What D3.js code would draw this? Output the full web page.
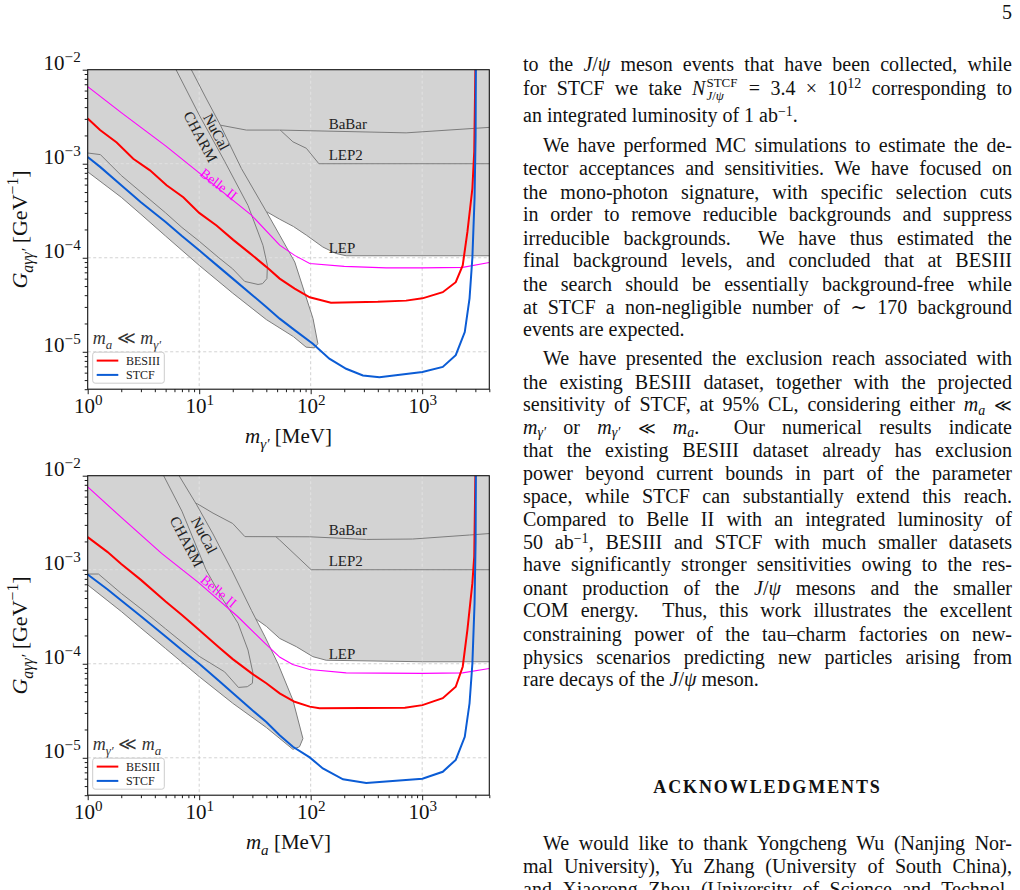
<!DOCTYPE html>
<html>
<head>
<meta charset="utf-8">
<script src="https://cdn.jsdelivr.net/npm/d3@7"></script>
<style>
  body { margin: 0; background: #fff; }
  #page { position: relative; width: 1020px; height: 890px; overflow: hidden;
          font-family: "Liberation Serif", "DejaVu Serif", serif; color: #111; }
  #charts { position: absolute; left: 0; top: 0; }
  .ln { position: absolute; left: 523px; width: 489px; font-size: 20px; line-height: 23px;
        text-align: justify; text-align-last: justify; }
  .ln.ind { left: 543px; width: 469px; }
  .ln.last { text-align-last: left; }
  .ln sup { font-size: 70%; line-height: 0; position: relative; top: -0.45em; vertical-align: baseline; }
  .ln sub { font-size: 70%; line-height: 0; position: relative; top: 0.22em; vertical-align: baseline; }
  .ll { font-family: "DejaVu Serif", serif; font-size: 17px; line-height: 0; }
  .stk { position: relative; display: inline-block; width: 33px; height: 0; font-size: 13px; }
  .stk span { position: absolute; left: 1px; line-height: 13px; white-space: nowrap; }
  .stk .up { top: -19px; }
  .stk .dn { top: -6px; }
  .head { position: absolute; left: 523px; width: 489px; text-align: center; font-weight: bold;
          font-size: 18px; letter-spacing: 1.9px; line-height: 23px; }
  .pno { position: absolute; right: 8px; top: 1px; font-size: 20px; line-height: 23px; }
</style>
</head>
<body>
<div id="page">
  <svg id="charts" width="1020" height="890"></svg>
  <div class="pno">5</div>
  <div id="text"></div>
</div>
<script>
const FONT = '"Liberation Serif", "DejaVu Serif", serif';

// axes
const massDomain = [1, 4000];
const couplingDomain = [4e-6, 1e-2];
const massTicks = [1, 10, 100, 1000];
const massTickExp = ["0", "1", "2", "3"];
const couplingTicks = [1e-2, 1e-3, 1e-4, 1e-5];
const couplingTickExp = ["\u22122", "\u22123", "\u22124", "\u22125"];

// upper panel, m_a << m_gamma'   [mass MeV, coupling GeV^-1]
const belleTop = [[1,6.6e-3],[2,3.5e-3],[5,1.55e-3],[10,8.0e-4],[20,4.1e-4],[29.4,2.84e-4],[52.7,1.36e-4],[71.8,1.06e-4],[98,8.7e-5],[200,8.1e-5],[475,7.8e-5],[1000,7.8e-5],[2310,7.9e-5],[4000,8.9e-5]];
const besiiiTop = [[1,3.03e-3],[1.29,2.28e-3],[1.82,1.68e-3],[2.56,1.13e-3],[3.62,8.5e-4],[5.1,5.9e-4],[7.2,4.4e-4],[10,3.0e-4],[14.3,2.2e-4],[20.2,1.55e-4],[28.4,1.12e-4],[40,8.0e-5],[52.7,6.0e-5],[71.8,4.7e-5],[98,3.8e-5],[152,3.33e-5],[400,3.4e-5],[718,3.5e-5],[1005,3.7e-5],[1530,4.3e-5],[2000,5.5e-5],[2310,8.3e-5],[2545,1.88e-4],[2820,5.45e-4],[2930,1.34e-3],[3000,1e-2]];
const stcfTop = [[1,1.18e-3],[1.3,9.2e-4],[2,5.9e-4],[3,3.9e-4],[5,2.4e-4],[7,1.7e-4],[10,1.2e-4],[15,8.0e-5],[20,6.0e-5],[30,4.0e-5],[40,3.0e-5],[52.7,2.25e-5],[71.8,1.7e-5],[104.6,1.22e-5],[147,8.45e-6],[208,6.6e-6],[294,5.6e-6],[414,5.37e-6],[1005,6.1e-6],[1530,6.9e-6],[2000,9.2e-6],[2410,1.62e-5],[2660,3.7e-5],[2820,1.0e-4],[2950,4.3e-4],[3015,2e-3],[3030,1e-2]];
const lepTop = [[5,2e-2],[8000,2e-2],[8000,1.05e-4],[208,1.05e-4],[169,1.11e-4],[128.6,1.3e-4],[91.4,1.74e-4],[70,2.15e-4],[52.7,2.57e-4],[40,3.1e-4],[10,3.1e-4]];
const lep2Top = [[52,2e-2],[8000,2e-2],[8000,1e-3],[118.5,1e-3],[91.4,1.46e-3],[69.3,1.71e-3],[54.6,2.22e-3],[52,2.35e-3]];
const babarTop = [[5,2e-2],[8000,2e-2],[8000,2.57e-3],[718,2.13e-3],[52.7,2.28e-3],[26.5,2.28e-3],[15.5,2.57e-3],[12,2.6e-3]];
const nucalTop = [[0.5,2e-2],[6.3,2e-2],[8.5,1e-2],[11.5,5e-3],[15.5,2.57e-3],[23.9,8.9e-4],[40,3.1e-4],[52.7,1.74e-4],[72,9e-5],[105,2.25e-5],[116,1.22e-5],[108,1.1e-5],[91,1.12e-5],[70,1.45e-5],[40,2.2e-5],[20,4.2e-5],[10,8.3e-5],[5,1.7e-4],[3,2.9e-4],[2,4.4e-4],[1,8.2e-4],[0.5,1.6e-3]];
const charmTop = [[0.5,2e-2],[4.7,2e-2],[6.2,1e-2],[10,3.3e-3],[17,1.05e-3],[27.4,3.6e-4],[37.3,1.36e-4],[40.9,8.3e-5],[40.5,6e-5],[37,5.3e-5],[33.7,5.2e-5],[25.6,5.6e-5],[20,7.6e-5],[15,1.0e-4],[10,1.5e-4],[7,2.1e-4],[5,3e-4],[3,5e-4],[2,7.5e-4],[1.3,1.25e-3],[1,1.3e-3],[0.5,1.3e-3]];

// lower panel, m_gamma' << m_a
const belleBot = [[1,7.6e-3],[2,3.6e-3],[4.6,1.49e-3],[10,7.2e-4],[22,3.2e-4],[39,1.65e-4],[53,1.17e-4],[69,9.8e-5],[98,8.7e-5],[208,8.0e-5],[1000,7.9e-5],[2300,8.0e-5],[4000,8.9e-5]];
const besiiiBot = [[1,2.22e-3],[1.5,1.55e-3],[2,1.15e-3],[3,7.8e-4],[5,4.6e-4],[7,3.3e-4],[10,2.29e-4],[15,1.5e-4],[20,1.12e-4],[30,7.8e-5],[40,6.2e-5],[52.7,4.84e-5],[71.8,3.94e-5],[98,3.5e-5],[120,3.36e-5],[700,3.4e-5],[1005,3.63e-5],[1530,4.3e-5],[2000,5.7e-5],[2310,9.3e-5],[2545,2.29e-4],[2820,7.2e-4],[2930,1.38e-3],[3000,1e-2]];
const stcfBot = [[1,8.9e-4],[1.5,6.2e-4],[2,4.7e-4],[3,3.2e-4],[5,1.95e-4],[7,1.4e-4],[10,1.0e-4],[15,6.6e-5],[20,4.9e-5],[30,3.2e-5],[40,2.4e-5],[52.7,1.74e-5],[69.3,1.31e-5],[98,1.01e-5],[128.6,7.7e-6],[195,5.9e-6],[315,5.4e-6],[1005,6.0e-6],[1530,7.1e-6],[2000,9.5e-6],[2410,1.67e-5],[2660,3.8e-5],[2820,1.0e-4],[2950,4.4e-4],[3015,2e-3],[3030,1e-2]];
const lepBot = [[5,2e-2],[8000,2e-2],[8000,1.05e-4],[1005,1.05e-4],[137.8,1.09e-4],[104.6,1.19e-4],[74.3,1.52e-4],[52.7,1.86e-4],[40,2.5e-4],[31,3.1e-4],[10,3.1e-4]];
const lep2Bot = [[46,2e-2],[8000,2e-2],[8000,1e-3],[101,1e-3],[52.7,2.07e-3],[48,2.28e-3],[46,2.4e-3]];
const babarBot = [[4,2e-2],[8000,2e-2],[8000,2.58e-3],[2660,2.34e-3],[820,2.12e-3],[315,2.1e-3],[98,2.24e-3],[25.7,2.25e-3],[20,3.1e-3],[13.3,4e-3],[9.7,5e-3],[8,5.5e-3]];
const nucalBot = [[0.5,2e-2],[4.7,2e-2],[6.6,1e-2],[9.5,4.9e-3],[13.3,2.4e-3],[19.5,1e-3],[29.4,3.7e-4],[38.9,1.94e-4],[50.9,1.0e-4],[69.3,4.1e-5],[85.2,1.6e-5],[79.4,1.31e-5],[69.3,1.23e-5],[40,2.1e-5],[20,3.8e-5],[10,7.3e-5],[5,1.45e-4],[3,2.4e-4],[2,3.6e-4],[1,6.9e-4],[0.5,1.35e-3]];
const charmBot = [[0.5,2e-2],[3.55,2e-2],[4.8,1e-2],[7,4.2e-3],[11.5,1e-3],[16,5e-4],[22.3,2.7e-4],[27.4,1.4e-4],[30.4,7.9e-5],[30,6.2e-5],[27,5.7e-5],[22.5,5.6e-5],[16.9,8.2e-5],[10,1.2e-4],[7,1.7e-4],[5,2.35e-4],[3,3.85e-4],[2,5.6e-4],[1.25,9e-4],[0.5,9e-4]];

const legendNames = ["BESIII", "STCF"];
const legendColors = ["#ff0000", "#0b5cd5"];

const plotL = 87.7, plotR = 489.3, plotH = 319.5;

const panels = [
    { id: "top", top: 69.7, belle: belleTop, besiii: besiiiTop, stcf: stcfTop,
      shaded: [lepTop, lep2Top, babarTop, nucalTop, charmTop],
      nucalAt: [14.3, 2.19e-3], charmAt: [10.3, 1.94e-3], belleAt: [15, 6.06e-4], belleRot: 38,
      note: [["m", "i"], ["a", "i sub"], [" \u226A "], ["m", "i"], ["\u03B3\u2032", "i sub"]],
      xTitle: [["m", "i"], ["\u03B3\u2032", "i sub"], [" [MeV]"]] },
    { id: "bot", top: 475.7, belle: belleBot, besii: null, besiii: besiiiBot, stcf: stcfBot,
      shaded: [lepBot, lep2Bot, babarBot, nucalBot, charmBot],
      nucalAt: [11.1, 2.34e-3], charmAt: [7.74, 1.99e-3], belleAt: [15, 5.93e-4], belleRot: 40,
      note: [["m", "i"], ["\u03B3\u2032", "i sub"], [" \u226A "], ["m", "i"], ["a", "i sub"]],
      xTitle: [["m", "i"], ["a", "i sub"], [" [MeV]"]] }
];

const svg = d3.select("#charts");
const defs = svg.append("defs");

// text with italic / sub / sup pieces
function richText(sel, parts, size) {
    let shift = 0;
    parts.forEach(([t, flags = ""]) => {
        const sub = flags.includes("sub"), sup = flags.includes("sup");
        const target = sub ? 0.28 * size : sup ? -0.4 * size : 0;
        const ts = sel.append("tspan").text(t).attr("dy", target - shift);
        shift = target;
        if (sub || sup) ts.attr("font-size", size * 0.72);
        if (flags.includes("i")) ts.attr("font-style", "italic");
    });
}

function minorTicks(lo, hi) {
    const out = [];
    for (let e = Math.floor(Math.log10(lo)); e <= Math.ceil(Math.log10(hi)); e++) {
        for (let k = 2; k <= 9; k++) {
            const v = k * Math.pow(10, e);
            if (v >= lo && v <= hi) out.push(v);
        }
    }
    return out;
}

function drawPanel(p) {
    const top = p.top, bottom = p.top + plotH;
    const x = d3.scaleLog().domain(massDomain).range([plotL, plotR]);
    const y = d3.scaleLog().domain(couplingDomain).range([bottom, top]);
    const shape = d3.line().x(d => x(d[0])).y(d => y(d[1]));
    const closed = d => shape(d) + "Z";

    defs.append("clipPath").attr("id", "plot-" + p.id)
        .append("rect").attr("x", plotL).attr("y", top).attr("width", plotR - plotL).attr("height", plotH);
    defs.append("clipPath").attr("id", "shade-" + p.id)
        .selectAll("path").data(p.shaded).join("path").attr("d", closed);

    // each outline shows only where no later region covers it
    p.shaded.forEach((r, i) => {
        const m = defs.append("mask").attr("id", `mask-${p.id}-${i}`).attr("maskUnits", "userSpaceOnUse")
            .attr("x", 0).attr("y", 0).attr("width", 1020).attr("height", 890);
        m.append("rect").attr("width", 1020).attr("height", 890).attr("fill", "#fff");
        m.selectAll("path").data(p.shaded.slice(i + 1)).join("path").attr("d", closed).attr("fill", "#000");
    });

    const plot = svg.append("g").attr("clip-path", `url(#plot-${p.id})`);

    const drawGrid = (g, color) => {
        g.selectAll(".vg").data(massTicks.slice(1)).join("line")
            .attr("x1", d => x(d)).attr("x2", d => x(d)).attr("y1", top).attr("y2", bottom);
        g.selectAll(".hg").data(couplingTicks.slice(1)).join("line")
            .attr("x1", plotL).attr("x2", plotR).attr("y1", d => y(d)).attr("y2", d => y(d));
        g.selectAll("line").attr("stroke", color).attr("stroke-width", 0.8).attr("stroke-dasharray", "3,2.5");
    };

    drawGrid(plot.append("g"), "#c6c6c6");

    plot.append("g").selectAll("path").data(p.shaded).join("path")
        .attr("d", closed).attr("fill", "#d3d3d3");

    drawGrid(plot.append("g").attr("clip-path", `url(#shade-${p.id})`), "#e6e6e6");

    plot.append("g").selectAll("path").data(p.shaded).join("path")
        .attr("d", closed)
        .attr("mask", (d, i) => `url(#mask-${p.id}-${i})`)
        .attr("fill", "none")
        .attr("stroke", "#7c7c7c")
        .attr("stroke-width", 1);

    // curves
    plot.append("path").datum(p.belle).attr("d", shape)
        .attr("fill", "none").attr("stroke", "#ff00ff").attr("stroke-width", 1.1);
    plot.append("path").datum(p.besiii).attr("d", shape)
        .attr("fill", "none").attr("stroke", legendColors[0]).attr("stroke-width", 2);
    plot.append("path").datum(p.stcf).attr("d", shape)
        .attr("fill", "none").attr("stroke", legendColors[1]).attr("stroke-width", 2);

    // region names
    const names = [["BaBar", 2.33e-3], ["LEP2", 1.09e-3], ["LEP", 1.13e-4]];
    plot.selectAll(".rname").data(names).join("text")
        .attr("x", x(145)).attr("y", d => y(d[1]))
        .attr("font-family", FONT).attr("font-size", 15).attr("fill", "#222")
        .text(d => d[0]);

    const rotLabel = (txt, at, rot, color, size) =>
        plot.append("text")
            .attr("transform", `translate(${x(at[0])},${y(at[1])}) rotate(${rot})`)
            .attr("text-anchor", "middle").attr("dy", "0.35em")
            .attr("font-family", FONT).attr("font-size", size).attr("fill", color)
            .text(txt);
    rotLabel("NuCal", p.nucalAt, 62, "#222", 15);
    rotLabel("CHARM", p.charmAt, 62, "#222", 15);
    rotLabel("Belle II", p.belleAt, p.belleRot, "#ff00ff", 14);

    // case note
    const note = svg.append("text").attr("x", plotL + 5).attr("y", bottom - 45)
        .attr("font-family", FONT).attr("font-size", 18).attr("fill", "#333");
    richText(note, p.note, 18);

    // legend
    const lg = svg.append("g");
    lg.append("rect").attr("x", plotL + 5).attr("y", bottom - 37).attr("width", 71.6).attr("height", 31)
        .attr("rx", 2.5).attr("fill", "#fff").attr("fill-opacity", 0.85).attr("stroke", "#cccccc").attr("stroke-width", 1);
    legendNames.forEach((name, i) => {
        const ly = bottom - 28.6 + i * 14.3;
        lg.append("line").attr("x1", plotL + 9).attr("x2", plotL + 30.6).attr("y1", ly).attr("y2", ly)
            .attr("stroke", legendColors[i]).attr("stroke-width", 2);
        lg.append("text").attr("x", plotL + 38.3).attr("y", ly).attr("dy", "0.36em")
            .attr("font-family", FONT).attr("font-size", 12).attr("fill", "#222").text(name);
    });

    // axes
    const xAxis = svg.append("g").attr("transform", `translate(0,${bottom})`)
        .call(d3.axisBottom(x).tickValues(massTicks).tickSize(5).tickFormat(() => ""));
    svg.append("g").attr("transform", `translate(0,${bottom})`)
        .call(d3.axisBottom(x).tickValues(minorTicks(1, 4000)).tickSize(3).tickFormat(() => ""))
        .call(g => g.select(".domain").remove());
    const yAxis = svg.append("g").attr("transform", `translate(${plotL},0)`)
        .call(d3.axisLeft(y).tickValues(couplingTicks).tickSize(5).tickFormat(() => ""));
    svg.append("g").attr("transform", `translate(${plotL},0)`)
        .call(d3.axisLeft(y).tickValues(minorTicks(4e-6, 1e-2)).tickSize(3).tickFormat(() => ""))
        .call(g => g.select(".domain").remove());
    [xAxis, yAxis].forEach(a => a.select(".domain").remove());
    svg.selectAll(".tick line").attr("stroke", "#000").attr("stroke-width", 0.9);

    xAxis.selectAll(".tick text").each(function (d, i) {
        const t = d3.select(this).attr("y", 24).attr("dy", null)
            .attr("font-family", FONT).attr("font-size", 21).attr("fill", "#111");
        richText(t, [["10"], [massTickExp[i], "sup"]], 21);
    });
    yAxis.selectAll(".tick text").each(function (d, i) {
        const t = d3.select(this).attr("x", -7).attr("dy", "0.3em")
            .attr("font-family", FONT).attr("font-size", 21).attr("fill", "#111");
        richText(t, [["10"], [couplingTickExp[i], "sup"]], 21);
    });

    // frame
    svg.append("rect").attr("x", plotL).attr("y", top).attr("width", plotR - plotL).attr("height", plotH)
        .attr("fill", "none").attr("stroke", "#111").attr("stroke-width", 1.1);

    // axis titles
    const xt = svg.append("text").attr("x", (plotL + plotR) / 2).attr("y", bottom + 54)
        .attr("text-anchor", "middle").attr("font-family", FONT).attr("font-size", 21).attr("fill", "#111");
    richText(xt, p.xTitle, 21);

    const yt = svg.append("text")
        .attr("transform", `translate(27,${top + plotH / 2}) rotate(-90)`)
        .attr("text-anchor", "middle").attr("font-family", FONT).attr("font-size", 22).attr("fill", "#111");
    richText(yt, [["G", "i"], ["a\u03B3\u03B3\u2032", "i sub"], [" [GeV"], ["\u22121", "sup"], ["]"]], 22);
}

panels.forEach(drawPanel);

// right column text: [baseline, class, html]
const J = "<i>J</i>/<i>\u03C8</i>";
const LL = '<span class="ll">\u226A</span>';
const textLines = [
    [71.7, "", `to the ${J} meson events that have been collected, while`],
    [95, "", `for STCF we take <i>N</i><span class="stk"><span class="up">STCF</span><span class="dn">${J}</span></span> = 3.4 \u00D7 10<sup>12</sup> corresponding to`],
    [122.7, "last", `an integrated luminosity of 1 ab<sup>\u22121</sup>.`],
    [152.7, "ind", `We have performed MC simulations to estimate the de-`],
    [175.7, "", `tector acceptances and sensitivities. We have focused on`],
    [199, "", `the mono-photon signature, with specific selection cuts`],
    [221.7, "", `in order to remove reducible backgrounds and suppress`],
    [245, "", `irreducible backgrounds.&nbsp; We have thus estimated the`],
    [267.7, "", `final background levels, and concluded that at BESIII`],
    [291, "", `the search should be essentially background-free while`],
    [314, "", `at STCF a non-negligible number of \u223C 170 background`],
    [336.7, "last", `events are expected.`],
    [365.7, "ind", `We have presented the exclusion reach associated with`],
    [389, "", `the existing BESIII dataset, together with the projected`],
    [411.7, "", `sensitivity of STCF, at 95% CL, considering either <i>m</i><sub><i>a</i></sub> ${LL}`],
    [434.3, "", `<i>m</i><sub><i>\u03B3\u2032</i></sub> or <i>m</i><sub><i>\u03B3\u2032</i></sub> ${LL} <i>m</i><sub><i>a</i></sub>.&nbsp; Our numerical results indicate`],
    [457.7, "", `that the existing BESIII dataset already has exclusion`],
    [480, "", `power beyond current bounds in part of the parameter`],
    [503.3, "", `space, while STCF can substantially extend this reach.`],
    [526, "", `Compared to Belle II with an integrated luminosity of`],
    [549.3, "", `50 ab<sup>\u22121</sup>, BESIII and STCF with much smaller datasets`],
    [571.7, "", `have significantly stronger sensitivities owing to the res-`],
    [595, "", `onant production of the ${J} mesons and the smaller`],
    [617.7, "", `COM energy.&nbsp; Thus, this work illustrates the excellent`],
    [641, "", `constraining power of the tau\u2013charm factories on new-`],
    [664, "", `physics scenarios predicting new particles arising from`],
    [686.7, "last", `rare decays of the ${J} meson.`],
    [850, "ind", `We would like to thank Yongcheng Wu (Nanjing Nor-`],
    [873.3, "", `mal University), Yu Zhang (University of South China),`],
    [896.5, "", `and Xiaorong Zhou (University of Science and Technol-`]
];

const textBox = d3.select("#text");
textBox.selectAll("div.ln").data(textLines).join("div")
    .attr("class", d => "ln " + d[1])
    .style("top", d => (d[0] - 18.25) + "px")
    .html(d => d[2]);
textBox.append("div").attr("class", "head").style("top", (793.3 - 17.5) + "px").text("ACKNOWLEDGMENTS");
</script>
</body>
</html>
